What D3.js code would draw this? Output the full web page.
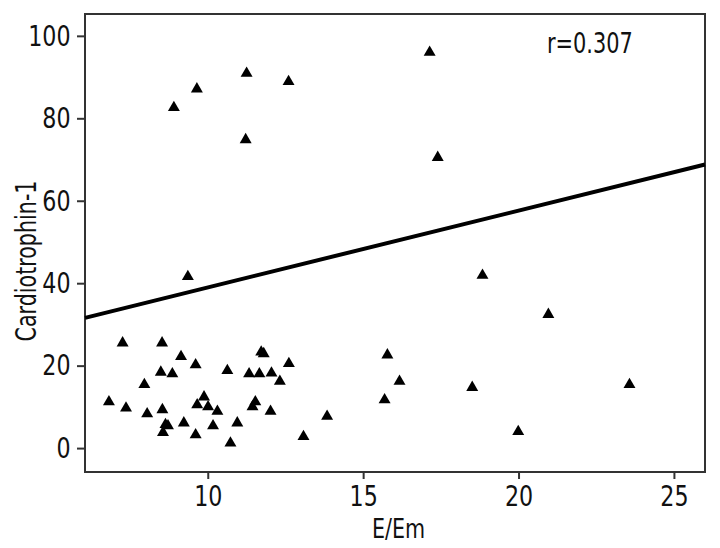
<!DOCTYPE html>
<html>
<head>
<meta charset="utf-8">
<script src="https://cdn.jsdelivr.net/npm/d3@7"></script>
<style>
  body { margin: 0; background: #fff; }
  text { font-family: "DejaVu Sans Condensed", "DejaVu Sans", sans-serif; font-stretch: condensed; fill: #111; }
</style>
</head>
<body>
<div class="chart"></div>
<script>
// E/Em vs Cardiotrophin-1
var eem = [8.91, 9.65, 11.25, 12.6, 17.14, 11.22, 17.4,
           9.36, 18.84, 20.96,
           15.78, 16.17, 15.69, 18.51, 19.99, 23.57,
           6.82, 7.26, 7.37, 7.96, 8.05, 8.53, 8.49, 8.86, 8.54, 8.64, 8.72, 8.56,
           9.14, 9.23, 9.61, 9.61, 9.66, 9.88, 10.01, 10.17, 10.31, 10.63, 10.73, 10.95,
           11.33, 11.44, 11.53, 11.66, 11.72, 11.80, 12.02, 12.05, 12.32, 12.61, 13.08, 13.84];
var ct1 = [82.6, 87.1, 90.9, 88.9, 96.0, 74.8, 70.5,
           41.6, 41.9, 32.4,
           22.6, 16.2, 11.7, 14.7, 4.0, 15.4,
           11.2, 25.5, 9.7, 15.4, 8.3, 25.5, 18.4, 18.0, 9.3, 5.7, 5.4, 3.8,
           22.2, 6.1, 20.2, 3.2, 10.5, 12.4, 10.0, 5.4, 8.9, 18.8, 1.2, 6.1,
           18.0, 10.0, 11.2, 18.0, 23.3, 22.9, 8.9, 18.2, 16.2, 20.5, 2.8, 7.7];

var xTicks = [10, 15, 20, 25];
var yTicks = [0, 20, 40, 60, 80, 100];

// fit line endpoints
var fitX = [6.05, 26];
var fitY = [31.6, 68.8];

var options = { width: 720, height: 548, left: 85, right: 705, top: 14, bottom: 472 };
var squeeze = "scale(0.85,1)"; // font in picture is narrower than DejaVu Condensed

var svg = d3.select(".chart").append("svg")
    .attr("width", options.width)
    .attr("height", options.height);

var xScale = d3.scaleLinear().domain([6.05, 26]).range([options.left, options.right]);
var yScale = d3.scaleLinear().domain([-5.8, 105.3]).range([options.bottom, options.top]);

// frame
svg.append("rect")
    .attr("x", options.left)
    .attr("y", options.top)
    .attr("width", options.right - options.left)
    .attr("height", options.bottom - options.top)
    .attr("fill", "none")
    .attr("stroke", "#333")
    .attr("stroke-width", 2);

var xAxis = d3.axisBottom(xScale).tickValues(xTicks).tickSize(7).tickPadding(6);
var yAxis = d3.axisLeft(yScale).tickValues(yTicks).tickSize(8).tickPadding(9);

var gx = svg.append("g")
    .attr("transform", "translate(0," + options.bottom + ")")
    .call(xAxis);
var gy = svg.append("g")
    .attr("transform", "translate(" + options.left + ",0)")
    .call(yAxis);

[gx, gy].forEach(function (g) {
    g.select(".domain").remove();
    g.selectAll("line").attr("stroke", "#333").attr("stroke-width", 2);
    g.selectAll("text").attr("font-size", "29px").attr("fill", "#111")
        .attr("transform", squeeze)
        .style("font-family", "'DejaVu Sans Condensed', 'DejaVu Sans', sans-serif")
        .style("font-stretch", "condensed");
});

// regression line
svg.append("line")
    .attr("x1", xScale(fitX[0]))
    .attr("y1", yScale(fitY[0]))
    .attr("x2", xScale(fitX[1]))
    .attr("y2", yScale(fitY[1]))
    .attr("stroke", "#000")
    .attr("stroke-width", 4);

// points
var pts = eem.map(function (d, i) { return { x: d, y: ct1[i] }; });
svg.selectAll("path.pt").data(pts).enter().append("path")
    .attr("class", "pt")
    .attr("d", d3.symbol().type(d3.symbolTriangle).size(62))
    .attr("transform", function (d) { return "translate(" + xScale(d.x) + "," + yScale(d.y) + ")"; })
    .attr("fill", "#000");

// labels
svg.append("text")
    .attr("transform", "translate(547,53) scale(0.8,1)")
    .attr("font-size", "29px")
    .text("r=0.307");

svg.append("text")
    .attr("transform", "translate(372,538) scale(0.85,1)")
    .attr("font-size", "27px")
    .text("E/Em");

svg.append("text")
    .attr("transform", "translate(36,261) rotate(-90) scale(0.82,1)")
    .attr("text-anchor", "middle")
    .attr("font-size", "28px")
    .text("Cardiotrophin-1");
</script>
</body>
</html>
